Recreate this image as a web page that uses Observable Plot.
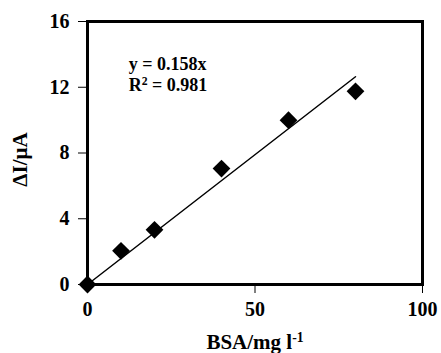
<!DOCTYPE html>
<html>
<head>
<meta charset="utf-8">
<script src="https://cdn.jsdelivr.net/npm/d3@7"></script>
<script src="https://cdn.jsdelivr.net/npm/@observablehq/plot@0.6"></script>
<style>
  html, body { margin: 0; padding: 0; background: #fff; }
</style>
</head>
<body>
<div id="chart"></div>
<script>
// Data
const bsa = [0, 10, 20, 40, 60, 80];            // BSA concentration, mg l^-1
const deltaI = [0, 2.05, 3.33, 7.05, 10.0, 11.75]; // ΔI, µA
const fitX = [0, 80];
const fitY = [0, 12.64];
const xTicks = [0, 50, 100];
const yTicks = [0, 4, 8, 12, 16];
const equationLines = ["y = 0.158x", "R^2 = 0.981"];
const xTitle = "BSA/mg l^-1";
const yTitle = "ΔI/μA";

const points = bsa.map((x, i) => ({x, y: deltaI[i]}));
const fit = fitX.map((x, i) => ({x, y: fitY[i]}));

const font = "'Liberation Serif', 'Times New Roman', serif";

const plot = Plot.plot({
  width: 441,
  height: 353,
  marginLeft: 87,
  marginTop: 21,
  marginRight: 19,
  marginBottom: 69,
  style: {fontFamily: font, fontWeight: "bold", fontSize: "20px", color: "#000", background: "#fff"},
  x: {domain: [0, 100]},
  y: {domain: [0, 16]},
  marks: [
    Plot.axisX({ticks: xTicks, tickSize: 9, tickPadding: 8, tickFormat: d => String(d), label: null, fontSize: 20}),
    Plot.axisY({ticks: yTicks, tickSize: 9, tickPadding: 9, tickFormat: d => String(d), label: null, fontSize: 20}),
    Plot.frame({stroke: "#000", strokeWidth: 3}),
    Plot.line(fit, {x: "x", y: "y", stroke: "#000", strokeWidth: 1.5}),
    Plot.dot(points, {x: "x", y: "y", symbol: "diamond2", r: 8, fill: "#000", stroke: "none"}),
    Plot.text([equationLines[0]], {x: 12.3, y: 13.4, text: d => d, textAnchor: "start", lineAnchor: "middle", fontSize: 18, fontWeight: "bold"}),
    Plot.text([equationLines[1]], {x: 12.3, y: 12.1, text: d => d, textAnchor: "start", lineAnchor: "middle", fontSize: 18, fontWeight: "bold"}),
    Plot.text([xTitle], {x: 50, y: 0, dy: 58, text: d => d, textAnchor: "middle", lineAnchor: "middle", fontSize: 21, fontWeight: "bold"}),
    Plot.text([yTitle], {x: 0, y: 7.6, dx: -67, text: d => d, rotate: -90, textAnchor: "middle", lineAnchor: "middle", fontSize: 21, fontWeight: "bold"})
  ]
});

// Convert "^xx" markup into real superscript tspans
plot.querySelectorAll("text").forEach(t => {
  const s = t.textContent;
  if (!s.includes("^")) return;
  const m = s.match(/^(.*?)\^(\S+)(.*)$/);
  if (!m) return;
  while (t.firstChild) t.removeChild(t.firstChild);
  const ns = "http://www.w3.org/2000/svg";
  const a = document.createElementNS(ns, "tspan"); a.textContent = m[1];
  const b = document.createElementNS(ns, "tspan"); b.textContent = m[2];
  b.setAttribute("baseline-shift", "super"); b.setAttribute("font-size", "0.65em");
  t.appendChild(a); t.appendChild(b);
  if (m[3]) { const c = document.createElementNS(ns, "tspan"); c.textContent = m[3]; t.appendChild(c); }
});

document.getElementById("chart").appendChild(plot);
</script>
</body>
</html>
